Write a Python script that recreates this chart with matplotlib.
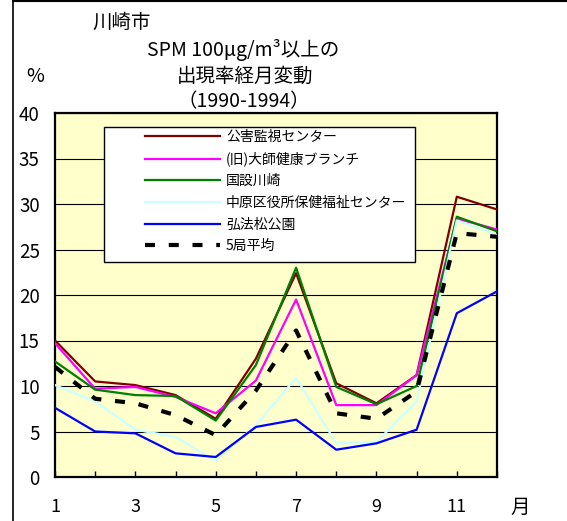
import matplotlib
matplotlib.use("Agg")
import matplotlib.pyplot as plt
from matplotlib.patches import Rectangle
from matplotlib.lines import Line2D

plt.rcParams['font.family'] = ['Noto Sans CJK JP', 'DejaVu Sans']

months = list(range(1, 13))
month_labels = ['1', '', '3', '', '5', '', '7', '', '9', '', '11', '']

kogai = [15.0, 10.5, 10.1, 9.0, 6.4, 13.0, 22.4, 10.3, 8.1, 11.2, 30.8, 29.4]
daishi = [14.7, 9.7, 9.9, 8.8, 7.0, 10.6, 19.5, 7.9, 7.9, 11.2, 28.4, 27.2]
kokusetsu = [12.7, 9.6, 9.0, 8.9, 6.2, 12.3, 23.0, 9.9, 8.0, 10.0, 28.6, 27.0]
nakahara = [10.1, 8.3, 5.2, 4.4, 1.8, 5.7, 10.9, 3.7, 3.85, 8.3, 28.2, 26.6]
kobo = [7.6, 5.0, 4.8, 2.6, 2.2, 5.5, 6.3, 3.0, 3.7, 5.2, 18.0, 20.4]
avg5 = [12.1, 8.6, 8.1, 6.8, 4.6, 9.5, 16.1, 7.0, 6.4, 9.4, 26.8, 26.4]

names = ['公害監視センター', '(旧)大師健康ブランチ', '国設川崎',
         '中原区役所保健福祉センター', '弘法松公園', '5局平均']
series = [kogai, daishi, kokusetsu, nakahara, kobo, avg5]
colors = ['#800000', '#FF00FF', '#008000', '#CCFFFF', '#0000FF', '#000000']

W, H = 567, 521
fig = plt.figure(figsize=(W / 100, H / 100), dpi=100)
ax = fig.add_axes([55 / W, 1 - 477 / H, 442 / W, 364 / H])
ax.set_facecolor('#FFFFCC')

for i in range(5):
    ax.plot(months, series[i], color=colors[i], lw=1.6, label=names[i], zorder=3)
ax.plot(months, avg5, color='black', lw=3, dashes=(2.4, 3.3),
        dash_capstyle='butt', label=names[5], zorder=3)

ax.set_xlim(1, 12)
ax.set_ylim(0, 40)
ax.set_yticks(range(0, 41, 5))
ax.set_xticks(months)
ax.set_xticklabels(month_labels)
ax.yaxis.grid(True, color='black', lw=0.8)
ax.tick_params(axis='y', length=0, pad=11, labelsize=13.5)
ax.tick_params(axis='x', direction='in', length=4, width=1, pad=15, labelsize=13)
for s in ax.spines.values():
    s.set_linewidth(1.6)

# legend box
ax.add_patch(Rectangle((0.111, 0.5907), 0.703, 0.3708, transform=ax.transAxes,
                       facecolor='white', edgecolor='black', lw=1, zorder=4))
leg = ax.legend(loc='upper left', bbox_to_anchor=(0.2036, 0.953), frameon=False,
                fontsize=10, handlelength=5.4, handletextpad=0.43,
                labelspacing=0.55, borderaxespad=0, borderpad=0)
leg.set_zorder(5)

# titles
fig.text(92 / W, 1 - 22 / H, '川崎市', fontsize=14, va='center', ha='left')
fig.text(243 / W, 1 - 50 / H, 'SPM 100μg/m³以上の', fontsize=14, va='center', ha='center')
fig.text(245 / W, 1 - 76 / H, '出現率経月変動', fontsize=14, va='center', ha='center')
fig.text(244 / W, 1 - 102 / H, '（1990-1994）', fontsize=14, va='center', ha='center')
fig.text(35 / W, 1 - 76 / H, '%', fontsize=14, va='center', ha='center')
fig.text(520 / W, 1 - 507 / H, '月', fontsize=14, va='center', ha='center')

# outer frame (top and left edges)
fig.add_artist(Line2D([12.5 / W, 12.5 / W], [0, 1], color='black', lw=1.2,
                      transform=fig.transFigure))
fig.add_artist(Line2D([12.5 / W, 1], [1 - 1 / H, 1 - 1 / H], color='black', lw=1.5,
                      transform=fig.transFigure))

fig.savefig('out.png', dpi=100)
